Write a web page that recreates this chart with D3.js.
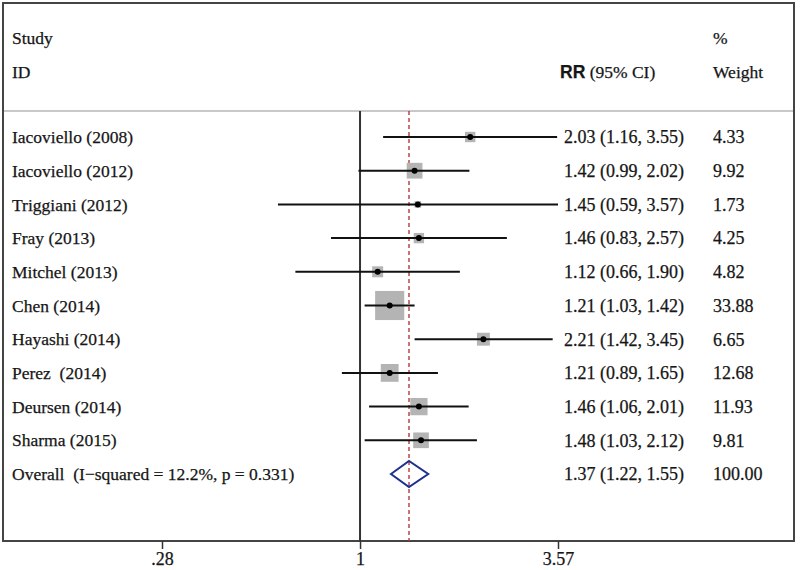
<!DOCTYPE html>
<html lang="en">
<head>
  <meta charset="UTF-8">
  <title>Forest plot</title>
  <script src="https://d3js.org/d3.v7.min.js"></script>
  <style>
    body { margin: 0; background: #fff; }
    svg text { font-family: "Liberation Serif", "Times New Roman", serif; fill: #161616; stroke: #161616; stroke-width: 0.25; white-space: pre; }
  </style>
</head>
<body>
  <div id="chart"></div>
  <script>
    const studies = ["Iacoviello (2008)", "Iacoviello (2012)", "Triggiani (2012)", "Fray (2013)", "Mitchel (2013)",
      "Chen (2014)", "Hayashi (2014)", "Perez  (2014)", "Deursen (2014)", "Sharma (2015)"];
    const rr = [2.03, 1.42, 1.45, 1.46, 1.12, 1.21, 2.21, 1.21, 1.46, 1.48];
    const lower = [1.16, 0.99, 0.59, 0.83, 0.66, 1.03, 1.42, 0.89, 1.06, 1.03];
    const upper = [3.55, 2.02, 3.57, 2.57, 1.90, 1.42, 3.45, 1.65, 2.01, 2.12];
    const weights = ["4.33", "9.92", "1.73", "4.25", "4.82", "33.88", "6.65", "12.68", "11.93", "9.81"];
    const overallLabel = "Overall  (I\u2212squared = 12.2%, p = 0.331)";
    const overall = { rr: 1.37, lo: 1.22, hi: 1.55, weight: "100.00" };
    const ticks = [0.28, 1, 3.57];
    const tickLabels = [".28", "1", "3.57"];

    const width = 800, height = 570;
    const frame = { left: 3, top: 3, right: 794, bottom: 541 };
    const sepY = 111;
    const fs = "17.5px";

    const svg = d3.select("#chart").append("svg").attr("width", width).attr("height", height);

    const x = d3.scaleLog().domain([0.28, 3.57]).range([162, 558]);
    const y = d3.scaleLinear().domain([0, 10]).range([137, 474]);
    const fmt = d3.format(".2f");
    const ciText = (a, b, c) => `${fmt(a)} (${fmt(b)}, ${fmt(c)})`;

    // frame + header separator
    svg.append("rect").attr("x", frame.left).attr("y", frame.top)
      .attr("width", frame.right - frame.left).attr("height", frame.bottom - frame.top)
      .attr("fill", "#fff").attr("stroke", "#444").attr("stroke-width", 2);
    svg.append("line").attr("x1", frame.left + 1).attr("x2", frame.right - 1).attr("y1", sepY).attr("y2", sepY)
      .attr("stroke", "#c8c8c8").attr("stroke-width", 2);

    // headers
    svg.append("text").attr("x", 12).attr("y", 38).attr("dy", ".35em").style("font-size", fs).text("Study");
    svg.append("text").attr("x", 12).attr("y", 72).attr("dy", ".35em").style("font-size", fs).text("ID");
    svg.append("text").attr("x", 713).attr("y", 38).attr("dy", ".35em").style("font-size", fs).text("%");
    svg.append("text").attr("x", 713).attr("y", 72).attr("dy", ".35em").style("font-size", fs).text("Weight");
    const rrHead = svg.append("text").attr("x", 560).attr("y", 72).attr("dy", ".35em").style("font-size", fs);
    rrHead.append("tspan").style("font-family", "'Liberation Sans', Arial, sans-serif").style("font-weight", "bold").text("RR");
    rrHead.append("tspan").text(" (95% CI)");

    // null line and overall dashed line
    svg.append("line").attr("x1", x(1)).attr("x2", x(1)).attr("y1", sepY).attr("y2", frame.bottom)
      .attr("stroke", "#333").attr("stroke-width", 2);
    svg.append("line").attr("x1", x(overall.rr)).attr("x2", x(overall.rr)).attr("y1", sepY).attr("y2", frame.bottom)
      .attr("stroke", "#b4383a").attr("stroke-width", 1.4).attr("stroke-dasharray", "4,3");

    const rows = studies.map((s, i) => ({ s, i, rr: rr[i], lo: lower[i], hi: upper[i], w: weights[i] }));

    // weight boxes
    svg.selectAll("rect.box").data(rows).join("rect").attr("class", "box")
      .attr("x", d => x(d.rr) - 2.5 * Math.sqrt(+d.w))
      .attr("y", d => y(d.i) - 2.5 * Math.sqrt(+d.w))
      .attr("width", d => 5 * Math.sqrt(+d.w))
      .attr("height", d => 5 * Math.sqrt(+d.w))
      .attr("fill", "#b4b4b4");

    // CI lines
    svg.selectAll("line.ci").data(rows).join("line").attr("class", "ci")
      .attr("x1", d => x(d.lo)).attr("x2", d => x(d.hi))
      .attr("y1", d => y(d.i)).attr("y2", d => y(d.i))
      .attr("stroke", "#111").attr("stroke-width", 2);

    // point estimates
    svg.selectAll("circle.pt").data(rows).join("circle").attr("class", "pt")
      .attr("cx", d => x(d.rr)).attr("cy", d => y(d.i)).attr("r", 3).attr("fill", "#000");

    // text columns
    svg.selectAll("text.study").data(rows).join("text").attr("class", "study")
      .attr("x", 12).attr("y", d => y(d.i)).attr("dy", ".35em").style("font-size", fs).text(d => d.s);
    svg.selectAll("text.ci").data(rows).join("text").attr("class", "ci")
      .attr("x", 684).attr("y", d => y(d.i)).attr("dy", ".35em").attr("text-anchor", "end")
      .style("font-size", "18px").text(d => ciText(d.rr, d.lo, d.hi));
    svg.selectAll("text.wt").data(rows).join("text").attr("class", "wt")
      .attr("x", 713).attr("y", d => y(d.i)).attr("dy", ".35em").style("font-size", "18px").text(d => d.w);

    // overall row
    const oy = y(10);
    svg.append("path")
      .attr("d", `M${x(overall.lo)},${oy} L${x(overall.rr)},${oy - 13} L${x(overall.hi)},${oy} L${x(overall.rr)},${oy + 13} Z`)
      .attr("fill", "none").attr("stroke", "#1f3090").attr("stroke-width", 2);
    svg.append("text").attr("x", 12).attr("y", oy).attr("dy", ".35em").style("font-size", fs).text(overallLabel);
    svg.append("text").attr("x", 684).attr("y", oy).attr("dy", ".35em").attr("text-anchor", "end")
      .style("font-size", "18px").text(ciText(overall.rr, overall.lo, overall.hi));
    svg.append("text").attr("x", 713).attr("y", oy).attr("dy", ".35em").style("font-size", "18px").text(overall.weight);

    // x axis
    const axis = svg.append("g").attr("transform", `translate(0,${frame.bottom})`)
      .call(d3.axisBottom(x).tickValues(ticks).tickFormat((d, i) => tickLabels[i]).tickSize(8).tickPadding(3));
    axis.select(".domain").remove();
    axis.selectAll(".tick line").attr("stroke", "#333").attr("stroke-width", 1.5);
    axis.selectAll(".tick text").style("font-family", "'Liberation Serif', serif").style("font-size", "18px")
      .attr("fill", "#161616");
  </script>
</body>
</html>
